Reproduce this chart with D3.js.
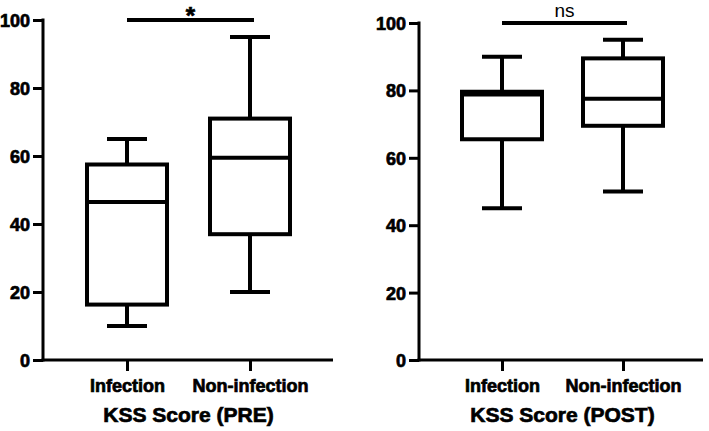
<!DOCTYPE html>
<html>
<head>
<meta charset="utf-8">
<script src="https://cdn.jsdelivr.net/npm/d3@7"></script>
<style>
  body { margin: 0; background: #fff; }
  text { font-family: "Liberation Sans", Arial, sans-serif; font-weight: bold; fill: #000; }
  .heavy { stroke: #000; stroke-width: 0.7px; }
</style>
</head>
<body>
<div id="chart"></div>
<script>
// data
var categories = ["Infection", "Non-infection"];
var yTicks = [0, 20, 40, 60, 80, 100];
// [min, q1, median, q3, max]
var preInfection = [10, 16.3, 46.5, 57.5, 65];
var preNonInfection = [20, 37, 59.5, 71, 95];
var postInfection = [45, 65.5, 78.8, 79.6, 90];
var postNonInfection = [50, 69.5, 77.5, 89.5, 95];
var titles = ["KSS Score (PRE)", "KSS Score (POST)"];
var sigLabels = ["*", "ns"];

function init(){
    var w = 709, h = 431;
    var svg = d3.select("#chart").append("svg")
                .attr("width", w).attr("height", h);

    var panels = [
        {title: titles[0], sig: sigLabels[0], boxes: [preInfection, preNonInfection],
         axisX: 43, endX: 333, top: 20, bottom: 360, cats: [127, 250]},
        {title: titles[1], sig: sigLabels[1], boxes: [postInfection, postNonInfection],
         axisX: 419, endX: 703, top: 23, bottom: 360, cats: [502, 623]}
    ];

    panels.forEach(function(p){
        var y = d3.scaleLinear().domain([0, 100]).range([p.bottom, p.top]);
        var x = d3.scalePoint().domain(categories).range(p.cats);
        var g = svg.append("g");
        var boxW = 80, capW = 40;

        // y axis
        var ya = g.append("g").attr("transform", "translate(" + p.axisX + ",0)")
            .call(d3.axisLeft(y).tickValues(yTicks).tickSize(10).tickSizeOuter(0).tickPadding(3));
        ya.selectAll("path, line").attr("stroke", "#000").attr("stroke-width", 3);
        ya.select(".domain").attr("d", "M0," + (p.bottom + 1.5) + "V" + (p.top - 1.5));
        ya.selectAll("text").attr("class", "heavy").style("font-size", "18px").attr("dy", "0.36em");

        // x axis
        g.append("line")
            .attr("x1", p.axisX - 1.5).attr("x2", p.endX)
            .attr("y1", p.bottom).attr("y2", p.bottom)
            .attr("stroke", "#000").attr("stroke-width", 3);
        var xa = g.append("g").attr("transform", "translate(0," + p.bottom + ")")
            .call(d3.axisBottom(x).tickSize(11).tickPadding(8));
        xa.select(".domain").remove();
        xa.selectAll("line").attr("stroke", "#000").attr("stroke-width", 3);
        xa.selectAll("text").attr("class", "heavy").style("font-size", "18px");

        // boxes
        p.boxes.forEach(function(b, i){
            var cx = x(categories[i]);
            var bg = g.append("g").attr("stroke", "#000").attr("stroke-width", 4).attr("fill", "none");
            bg.append("line").attr("x1", cx).attr("x2", cx).attr("y1", y(b[0])).attr("y2", y(b[1]));
            bg.append("line").attr("x1", cx).attr("x2", cx).attr("y1", y(b[3])).attr("y2", y(b[4]));
            bg.append("line").attr("x1", cx - capW/2).attr("x2", cx + capW/2).attr("y1", y(b[0])).attr("y2", y(b[0]));
            bg.append("line").attr("x1", cx - capW/2).attr("x2", cx + capW/2).attr("y1", y(b[4])).attr("y2", y(b[4]));
            bg.append("rect").attr("x", cx - boxW/2).attr("width", boxW)
                .attr("y", y(b[3])).attr("height", y(b[1]) - y(b[3])).attr("fill", "#fff");
            bg.append("line").attr("x1", cx - boxW/2).attr("x2", cx + boxW/2).attr("y1", y(b[2])).attr("y2", y(b[2]));
        });

        // significance bar
        var c0 = x(categories[0]), c1 = x(categories[1]);
        g.append("line").attr("x1", c0).attr("x2", c1 + 4)
            .attr("y1", y(100)).attr("y2", y(100))
            .attr("stroke", "#000").attr("stroke-width", 4);
        var star = p.sig == "*";
        g.append("text").attr("x", (c0 + c1) / 2 + 2).attr("y", star ? y(100) + 4 : 17)
            .attr("text-anchor", "middle")
            .attr("class", star ? "heavy" : null)
            .style("font-size", star ? "24px" : "19px")
            .style("font-weight", star ? "bold" : "normal")
            .text(p.sig);

        // title
        g.append("text").attr("x", (c0 + c1) / 2).attr("y", 422)
            .attr("class", "heavy")
            .attr("text-anchor", "middle").style("font-size", "21px")
            .text(p.title);
    });
}
window.onload = init;
</script>
</body>
</html>
